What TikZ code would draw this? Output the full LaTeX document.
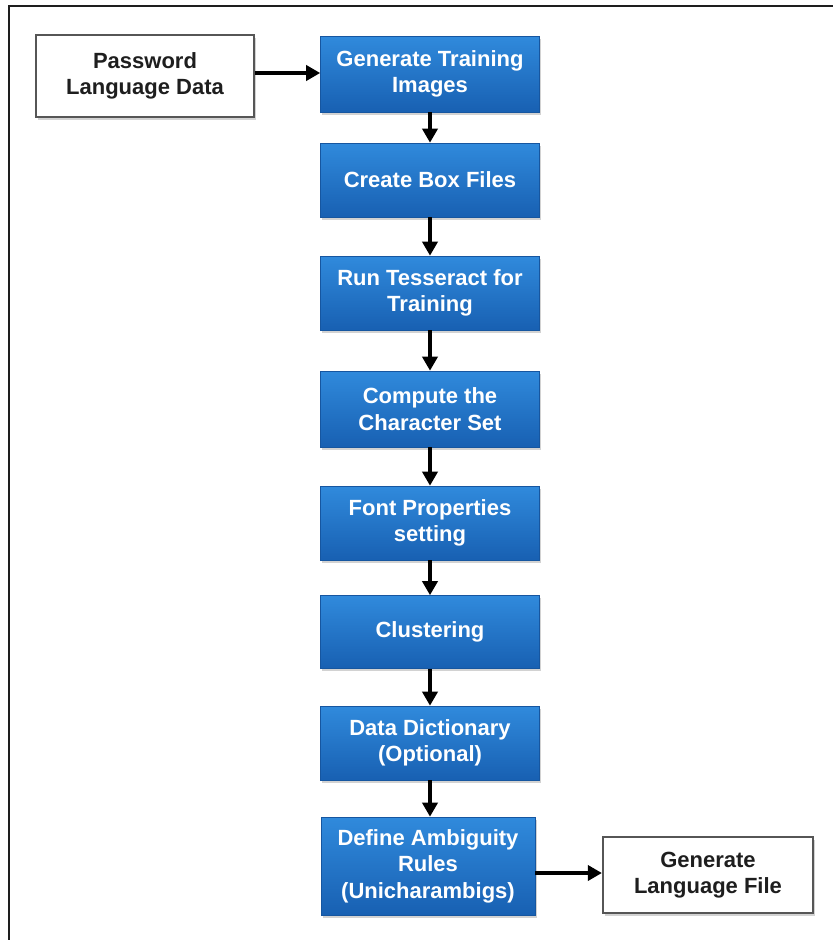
\documentclass[tikz,border=0pt]{standalone}
\usepackage{fontspec}
\setmainfont{Liberation Sans}
\usetikzlibrary{arrows.meta,shadows}
\definecolor{bluetop}{RGB}{48,138,220}
\definecolor{bluebot}{RGB}{24,96,178}
\definecolor{inkdark}{RGB}{30,30,30}
\tikzset{
  bluebox/.style={rectangle, inner sep=0pt, top color=bluetop, bottom color=bluebot,
    draw=bluebot!90!black, line width=0.6pt, text=white, align=center,
    font=\fontsize{22}{26.5}\selectfont\bfseries, minimum width=219pt,
    drop shadow={shadow xshift=1.5pt, shadow yshift=-2.5pt, opacity=0.35}},
  whitebox/.style={rectangle, inner sep=0pt, fill=white, draw=inkdark!75, line width=2.2pt,
    text=inkdark, align=center, font=\fontsize{22}{26.5}\selectfont\bfseries,
    drop shadow={shadow xshift=1.5pt, shadow yshift=-2.5pt, opacity=0.35}},
  flow/.style={-{Triangle[length=14pt,width=15pt]}, line width=3.6pt, black},
  frameline/.style={line width=2.4pt, inkdark}
}
\begin{document}
\begin{tikzpicture}[x=1pt,y=1pt]
\useasboundingbox (0,0) rectangle (833,-940);
\fill[white] (0,0) rectangle (833,-940);
\draw[frameline] (9,-940) -- (9,-6) -- (833,-6);

\node[whitebox, minimum width=218pt, minimum height=82pt] (pw) at (145,-76) {Password\\Language Data};
\node[bluebox, minimum height=76pt] (b1) at (430,-74) {Generate Training\\Images};
\node[bluebox, minimum height=74pt] (b2) at (430,-180) {Create Box Files};
\node[bluebox, minimum height=74pt] (b3) at (430,-293) {Run Tesseract for\\Training};
\node[bluebox, minimum height=76pt] (b4) at (430,-409) {Compute the\\Character Set};
\node[bluebox, minimum height=74pt] (b5) at (430,-523) {Font Properties\\setting};
\node[bluebox, minimum height=73pt] (b6) at (430,-632) {Clustering};
\node[bluebox, minimum height=74pt] (b7) at (430,-743) {Data Dictionary\\(Optional)};
\node[bluebox, minimum width=214pt, minimum height=98pt] (b8) at (428,-866) {Define Ambiguity\\Rules\\(Unicharambigs)};
\node[whitebox, minimum width=210pt, minimum height=76pt] (lf) at (708,-875) {Generate\\Language File};

\draw[flow] (pw.east |- 0,-73) -- (b1.west |- 0,-73);
\draw[flow] (b1) -- (b2);
\draw[flow] (b2) -- (b3);
\draw[flow] (b3) -- (b4);
\draw[flow] (b4) -- (b5);
\draw[flow] (b5) -- (b6);
\draw[flow] (b6) -- (b7);
\draw[flow] (b7.south -| 430,0) -- (b8.north -| 430,0);
\draw[flow] (b8.east |- 0,-873) -- (lf.west |- 0,-873);
\end{tikzpicture}
\end{document}
